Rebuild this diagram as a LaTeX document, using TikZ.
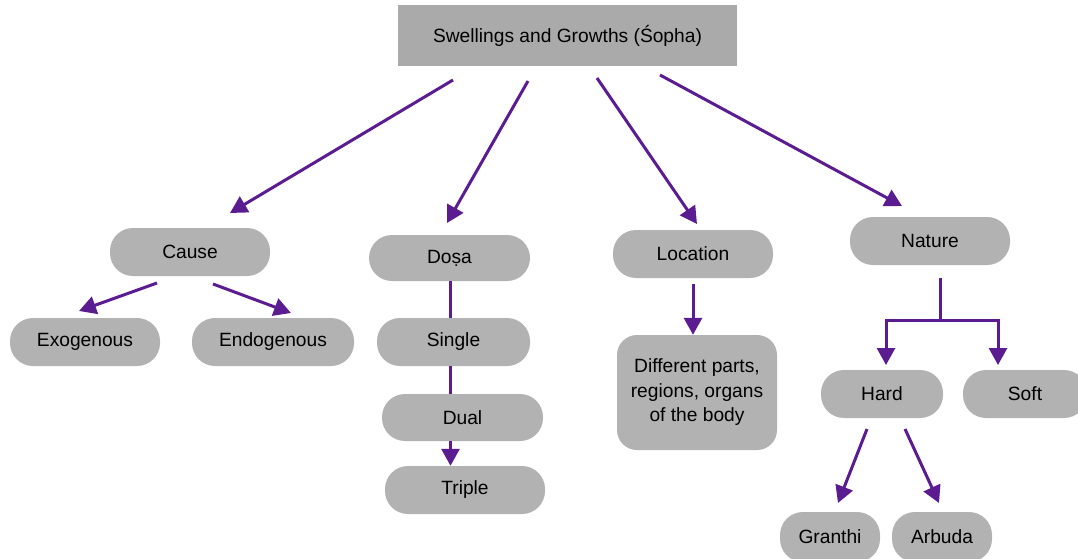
\documentclass[tikz,border=0pt]{standalone}
\usepackage{fontspec}
\setmainfont{Liberation Sans}
\usetikzlibrary{arrows.meta}
\definecolor{boxgray}{RGB}{178,178,178}
\definecolor{topgray}{RGB}{170,170,170}
\definecolor{arrowpurple}{RGB}{92,28,145}
\begin{document}
\begin{tikzpicture}[x=1pt,y=-1pt,
  pill/.style={fill=boxgray, rounded corners=23pt, minimum height=48pt, minimum width=160pt, inner sep=0pt, font=\fontsize{19.2}{22}\selectfont},
  topbox/.style={fill=topgray, minimum width=339pt, minimum height=61pt, inner sep=0pt, font=\fontsize{19.2}{22}\selectfont},
  bigbox/.style={fill=boxgray, rounded corners=20pt, minimum width=160pt, minimum height=115pt, inner sep=0pt, align=center, font=\fontsize{19.2}{24.5}\selectfont},
  arr/.style={draw=arrowpurple, line width=3pt, -{Triangle[length=17pt,width=18pt]}},
  ln/.style={draw=arrowpurple, line width=3pt}
]
\useasboundingbox[fill=white] (0,0) rectangle (1078,559);
\node[topbox] (top) at (567.5,35.5) {Swellings and Growths (Śopha)};
\node[pill] (cause) at (190,252) {Cause};
\node[pill, minimum width=150pt] (exo) at (85,342) {Exogenous};
\node[pill, minimum width=162pt] (endo) at (273,342) {Endogenous};
\node[pill, minimum width=161pt, minimum height=46pt] (dosa) at (449.5,258) {Doṣa};
\node[pill, minimum width=153pt] (single) at (453.5,342) {Single};
\node[pill, minimum width=161pt, minimum height=47pt] (dual) at (462.5,417.5) {Dual};
\node[pill] (triple) at (465,490) {Triple};
\node[pill] (loc) at (693,254) {Location};
\node[bigbox] (parts) at (697,392.5) {Different parts,\\regions, organs\\of the body};
\node[pill] (nature) at (930,241) {Nature};
\node[pill, minimum width=122pt] (hard) at (882,394) {Hard};
\node[pill, minimum width=124pt] (soft) at (1025,394) {Soft};
\node[pill, minimum width=100pt, minimum height=50pt] (granthi) at (830,537) {Granthi};
\node[pill, minimum width=100pt, minimum height=50pt] (arbuda) at (942,537) {Arbuda};
% connector anchor points
\coordinate (t1) at (453,80);
\coordinate (t2) at (528,81);
\coordinate (t3) at (597,78);
\coordinate (t4) at (660,75);
\coordinate (c1) at (157,283);
\coordinate (c2) at (213,284);
\coordinate (nb) at (940,278);
\coordinate (nj) at (940,320);
\coordinate (nl) at (886,320);
\coordinate (nr) at (998,320);
\coordinate (h1) at (867,429);
\coordinate (h2) at (905,429);
\draw[arr] (t1) -- (230,213);
\draw[arr] (t2) -- (447,223);
\draw[arr] (t3) -- (697,224);
\draw[arr] (t4) -- (902,206);
\draw[arr] (c1) -- (79,311);
\draw[arr] (c2) -- (291,313);
\draw[ln] (dosa.south -| 450.5,0) -- (single.north -| 450.5,0);
\draw[ln] (single.south -| 450.5,0) -- (dual.north -| 450.5,0);
\draw[arr] (dual.south -| 450.5,0) -- (triple.north -| 450.5,0);
\draw[arr] (693,284) -- (parts.north -| 693,0);
\draw[ln] (nb) -- (nj);
\draw[ln, line cap=rect] (nl) -- (nr);
\draw[arr] (nl) -- (886,365);
\draw[arr] (nr) -- (998,365);
\draw[arr] (h1) -- (838,503);
\draw[arr] (h2) -- (939,503);
\end{tikzpicture}
\end{document}
